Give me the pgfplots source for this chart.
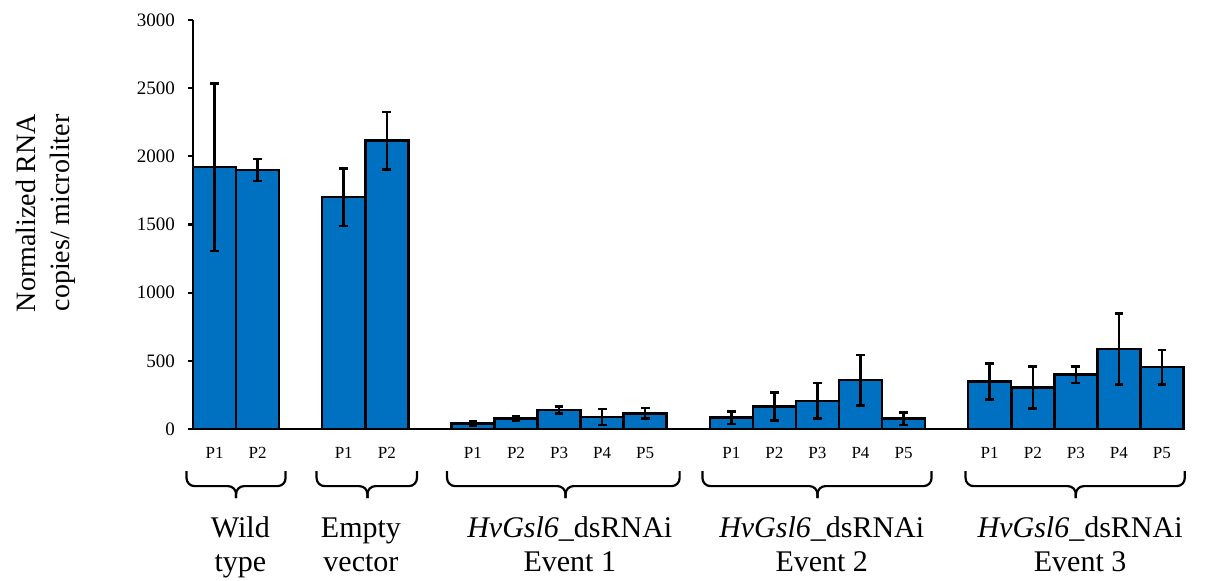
\documentclass[border=0pt]{standalone}
\usepackage{fontspec}
\setmainfont{Liberation Serif}
\usepackage{pgfplots}
\pgfplotsset{compat=1.18}
\usepackage{pgfplotstable}
\definecolor{barblue}{RGB}{0,112,192}

\pgfplotstableread{
x y err
1 1920 615
2 1900 80
4 1700 210
5 2115 210
7 42 15
8 76 15
9 140 25
10 88 60
11 115 38
13 83 45
14 164 103
15 206 130
16 358 184
17 76 45
19 348 132
20 304 155
21 399 60
22 588 260
23 453 125
}\datatable

\newcommand\grpbrace[3]{%
  \draw[line width=1.1pt, rounded corners=4pt] (axis cs:#1,-309) -- (axis cs:#1,-419) -- (axis cs:#3,-419) -- (axis cs:#3,-507);
  \draw[line width=1.1pt, rounded corners=4pt] (axis cs:#2,-309) -- (axis cs:#2,-419) -- (axis cs:#3,-419) -- (axis cs:#3,-507);
}
\newcommand\grplabel[3]{%
  \node[anchor=base, font=\fontsize{15}{17}\selectfont, inner sep=0pt] at (axis cs:#1,-794) {#2};
  \node[anchor=base, font=\fontsize{15}{17}\selectfont, inner sep=0pt] at (axis cs:#1,-1044) {#3};
}

\begin{document}
\begin{tikzpicture}
\begin{axis}[
  scale only axis, width=495.25pt, height=204.5pt,
  xmin=0.5, xmax=23.5, ymin=0, ymax=3000,
  ybar, bar width=21.52pt,
  axis x line*=bottom, axis y line*=left,
  axis line style={line width=1.1pt, black},
  ytick={0,500,...,3000},
  tick align=outside, major tick length=2.5pt,
  ytick style={line width=1.1pt, black},
  xtick={1,2,4,5,7,8,9,10,11,13,14,15,16,17,19,20,21,22,23},
  xticklabels={P1,P2,P1,P2,P1,P2,P3,P4,P5,P1,P2,P3,P4,P5,P1,P2,P3,P4,P5},
  xtick style={draw=none},
  xticklabel style={font=\fontsize{8.5}{10}\selectfont, anchor=base, yshift=-12.5pt},
  yticklabel style={font=\fontsize{9.5}{11}\selectfont, xshift=-3pt},
  /pgf/number format/assume math mode=true,
  /pgf/number format/set thousands separator={},
  clip=false,
]
\addplot[fill=barblue, draw=black, line width=1.25pt,
  error bars/.cd, y dir=both, y explicit,
  error bar style={line width=1.25pt, black},
  error mark=-,
  error mark options={rotate=90, line width=1.25pt, mark size=2.2pt, black}]
  table[x=x, y=y, y error=err] {\datatable};

\coordinate (O) at (rel axis cs:0,0);

\grpbrace{0.35}{2.65}{1.5}
\grpbrace{3.37}{5.7}{4.55}
\grpbrace{6.4}{11.8}{9.15}
\grpbrace{12.33}{17.65}{15}
\grpbrace{18.44}{23.53}{21}

\grplabel{1.6}{Wild}{type}
\grplabel{4.4}{Empty}{vector}
\grplabel{9.25}{\textit{HvGsl6}\_dsRNAi}{Event 1}
\grplabel{15.1}{\textit{HvGsl6}\_dsRNAi}{Event 2}
\grplabel{21.1}{\textit{HvGsl6}\_dsRNAi}{Event 3}

\node[rotate=90, align=center, font=\fontsize{14}{17}\selectfont, inner sep=0pt]
  at ([xshift=-73.5pt]rel axis cs:0,0.528) {Normalized RNA\\copies/ microliter};
\end{axis}
\pgfresetboundingbox
\path[use as bounding box] ([shift={(-96.5pt,-76pt)}]O) rectangle ([shift={(506.5pt,214.5pt)}]O);
\end{tikzpicture}
\end{document}
